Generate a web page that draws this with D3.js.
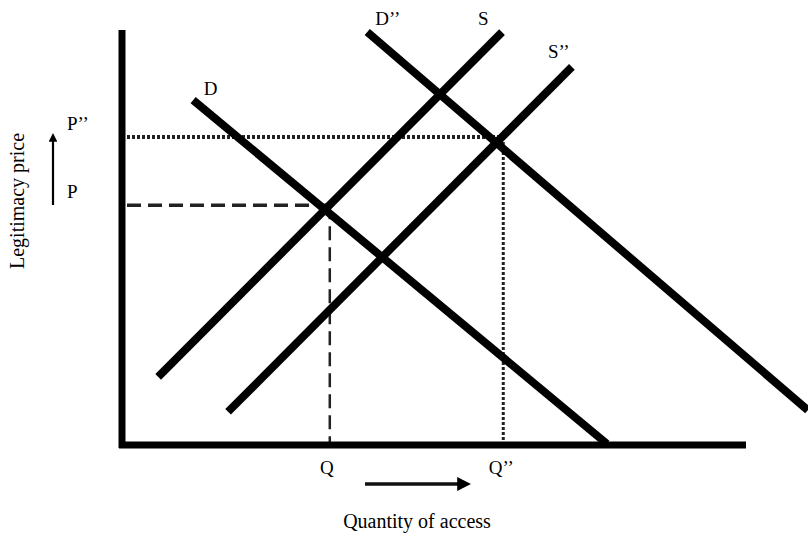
<!DOCTYPE html>
<html>
<head>
<meta charset="utf-8">
<script src="https://cdn.jsdelivr.net/npm/d3@7"></script>
<style>
  body { margin: 0; background: #fff; }
  text { font-family: "Liberation Serif", "DejaVu Serif", serif; fill: #000; }
</style>
</head>
<body>
<svg id="chart" width="808" height="533"></svg>
<script>
// curves as [x0, y0, x1, y1] in axis units (0..100)
const curveNames = ['D', 'D\u2019\u2019', 'S', 'S\u2019\u2019']
const curveEnds = [
  [11.4, 83.1, 77.7, 0.3],
  [39.3, 99.5, 109.9, 8.4],
  [5.8, 16.4, 60.9, 99.5],
  [17.0, 8.0, 72.1, 91.1]
]
// where the curve labels sit (axis units)
const labelPos = [[14.2, 84.3], [42.6, 101.2], [57.9, 101.2], [70.0, 93.3]]

// equilibrium prices and quantities
const priceLabels = ['P', 'P\u2019\u2019']
const priceValues = [57.8, 74.2]
const qtyLabels = ['Q', 'Q\u2019\u2019']
const qtyValues = [33.3, 61.1]

const svg = d3.select('#chart')
const x = d3.scaleLinear().domain([0, 100]).range([122, 746])
const y = d3.scaleLinear().domain([0, 100]).range([445, 30])

// guide lines: dashed for the first equilibrium, dotted for the second
const guideStyle = [
  { dash: '14,7', w: 3.5, col: '#222' },
  { dash: '3,2', w: 4, col: '#222' }
]
priceValues.forEach((p, i) => {
  const g = guideStyle[i]
  svg.append('line')
    .attr('x1', x(0) + 5).attr('x2', x(qtyValues[i]))
    .attr('y1', y(p)).attr('y2', y(p))
    .attr('stroke', g.col).attr('stroke-width', g.w)
    .attr('stroke-dasharray', g.dash)
  svg.append('line')
    .attr('x1', x(qtyValues[i])).attr('x2', x(qtyValues[i]))
    .attr('y1', y(p)).attr('y2', y(0))
    .attr('stroke', g.col).attr('stroke-width', i ? 3 : 2.5)
    .attr('stroke-dasharray', g.dash)
})

// demand / supply curves
svg.append('g').selectAll('line')
  .data(curveEnds)
  .join('line')
  .attr('x1', d => x(d[0])).attr('y1', d => y(d[1]))
  .attr('x2', d => x(d[2])).attr('y2', d => y(d[3]))
  .attr('stroke', '#000').attr('stroke-width', 8)

svg.append('g').selectAll('text')
  .data(curveNames)
  .join('text')
  .attr('x', (d, i) => x(labelPos[i][0]))
  .attr('y', (d, i) => y(labelPos[i][1]))
  .attr('text-anchor', 'middle')
  .attr('font-size', 19)
  .text(d => d)

// axes (thick, no ticks)
svg.append('line')
  .attr('x1', x(0)).attr('x2', x(0))
  .attr('y1', y(100)).attr('y2', y(0) + 3)
  .attr('stroke', '#000').attr('stroke-width', 7)
svg.append('line')
  .attr('x1', x(0) - 3).attr('x2', x(100))
  .attr('y1', y(0)).attr('y2', y(0))
  .attr('stroke', '#000').attr('stroke-width', 7)

// tick labels
svg.append('g').selectAll('text')
  .data(priceLabels)
  .join('text')
  .attr('x', 67)
  .attr('y', (d, i) => y(priceValues[i]) - 7)
  .attr('font-size', 19)
  .text(d => d)
svg.append('g').selectAll('text')
  .data(qtyLabels)
  .join('text')
  .attr('x', (d, i) => x(qtyValues[i]) + (i ? -2 : -3))
  .attr('y', 474)
  .attr('text-anchor', 'middle')
  .attr('font-size', 19)
  .text(d => d)

// arrows
const defs = svg.append('defs')
defs.append('marker')
  .attr('id', 'head').attr('viewBox', '0 0 10 10')
  .attr('refX', 2).attr('refY', 5)
  .attr('markerWidth', 4).attr('markerHeight', 4)
  .attr('orient', 'auto')
  .append('path').attr('d', 'M0,0L10,5L0,10Z').attr('fill', '#000')
svg.append('line')
  .attr('x1', 53).attr('y1', 205).attr('x2', 53).attr('y2', 140)
  .attr('stroke', '#000').attr('stroke-width', 2.2)
  .attr('marker-end', 'url(#head)')
svg.append('line')
  .attr('x1', 365).attr('y1', 484).attr('x2', 460).attr('y2', 484)
  .attr('stroke', '#111').attr('stroke-width', 3.5)
  .attr('marker-end', 'url(#head)')

// axis titles
svg.append('text')
  .attr('x', 417).attr('y', 528)
  .attr('text-anchor', 'middle')
  .attr('font-size', 20)
  .text('Quantity of access')
svg.append('text')
  .attr('transform', 'translate(24,201) rotate(-90)')
  .attr('text-anchor', 'middle')
  .attr('font-size', 20)
  .text('Legitimacy price')
</script>
</body>
</html>
